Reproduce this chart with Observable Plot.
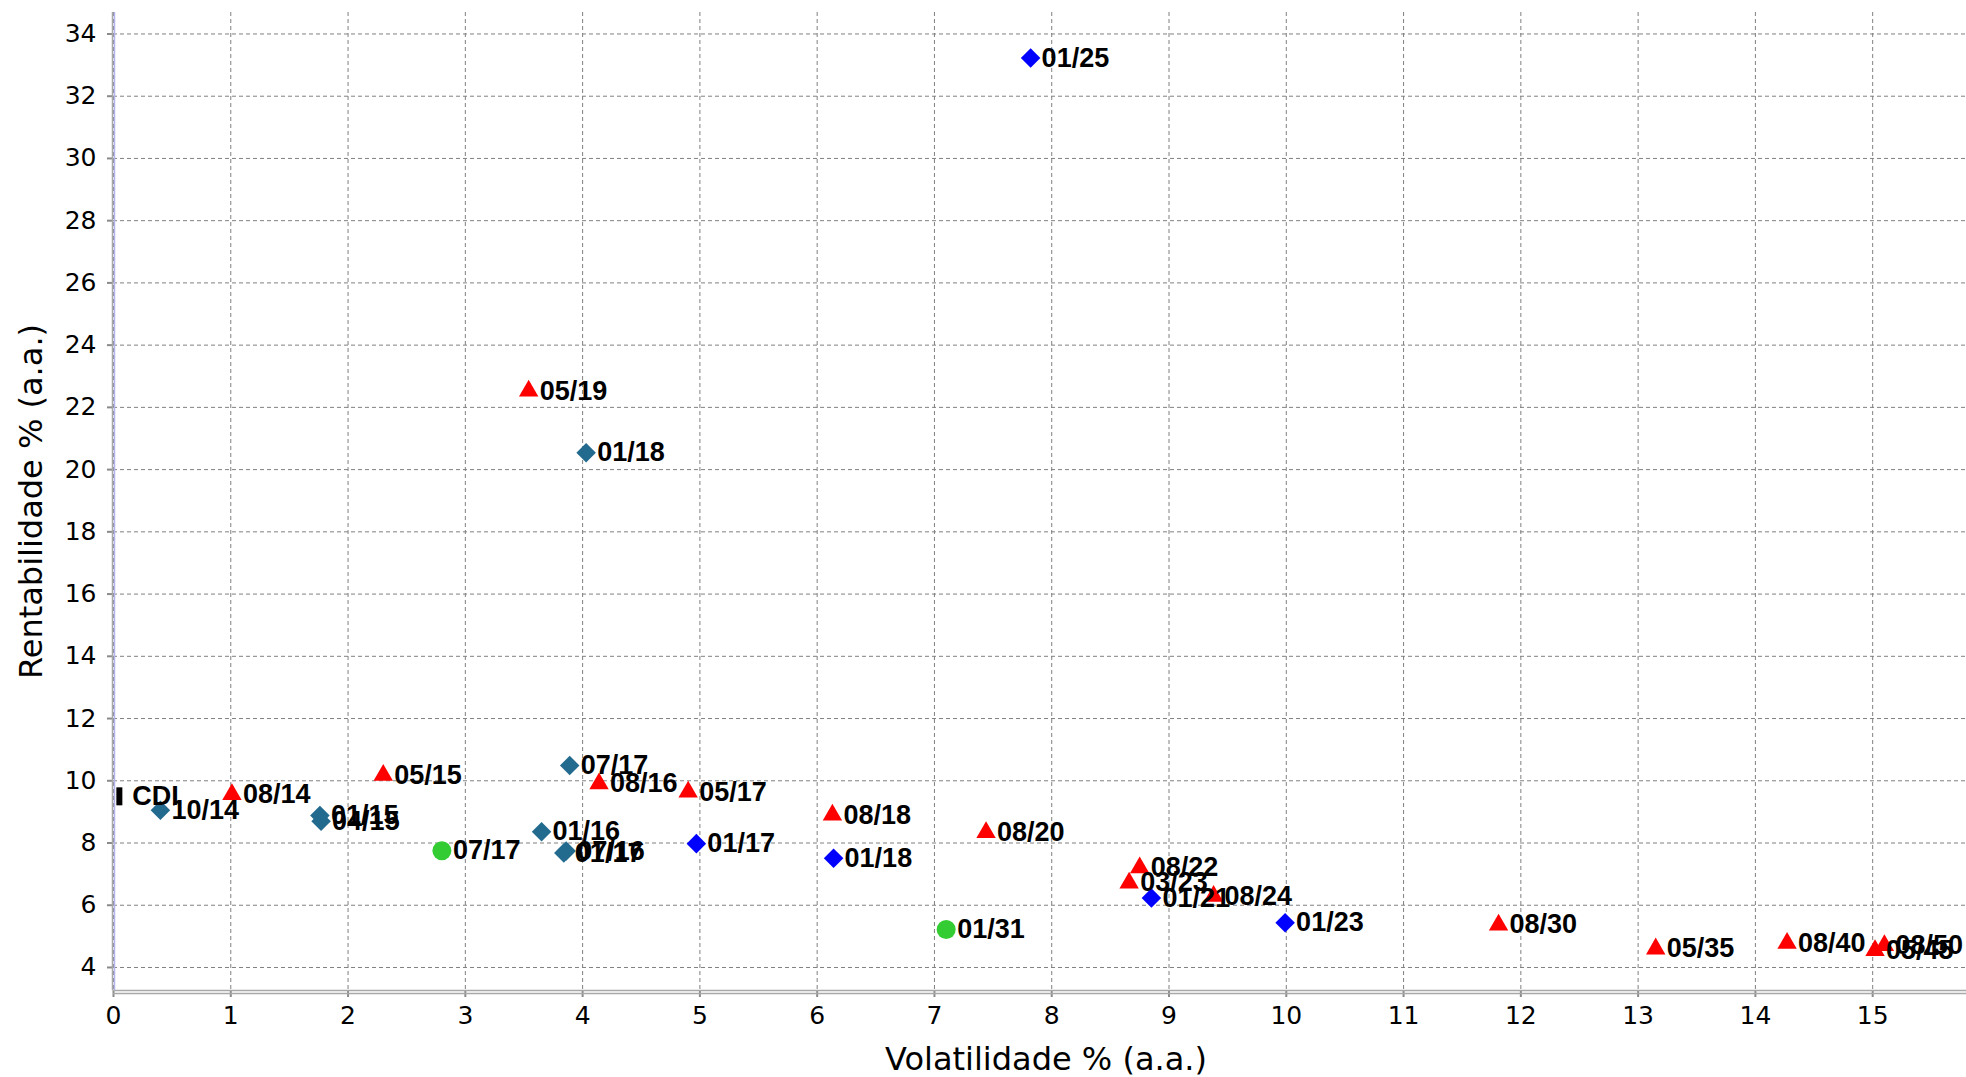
<!DOCTYPE html>
<html><head><meta charset="utf-8">
<script src="https://cdn.jsdelivr.net/npm/d3@7"></script>
<script src="https://cdn.jsdelivr.net/npm/@observablehq/plot@0.6"></script>
<style>body{margin:0;background:#fff;overflow:hidden}</style>
</head><body><div id="chart"></div>
<script>
// NTN-B (red triangles)
const ntnbLabels = ["08/14","05/15","08/16","05/17","05/19","08/18","08/20","08/22","03/23","08/24","08/30","05/35","08/40","05/45","08/50"];
const ntnbVol    = [1.01, 2.30, 4.14, 4.90, 3.54, 6.13, 7.44, 8.75, 8.66, 9.38, 11.81, 13.15, 14.27, 15.02, 15.10];
const ntnbRet    = [9.56, 10.18, 9.91, 9.64, 22.53, 8.90, 8.34, 7.21, 6.72, 6.29, 5.37, 4.60, 4.78, 4.55, 4.71];
// NTN-F (blue diamonds)
const ntnfLabels = ["01/17","01/18","01/21","01/23","01/25"];
const ntnfVol    = [4.97, 6.14, 8.85, 9.99, 7.82];
const ntnfRet    = [7.98, 7.51, 6.23, 5.44, 33.23];
// LTN (teal diamonds)
const ltnLabels = ["10/14","01/15","04/15","01/16","07/16","01/17","07/17","01/18"];
const ltnVol    = [0.40, 1.76, 1.77, 3.65, 3.86, 3.84, 3.89, 4.03];
const ltnRet    = [9.05, 8.88, 8.70, 8.36, 7.74, 7.68, 10.49, 20.54];
// LFT (green circles)
const lftLabels = ["07/17","01/31"];
const lftVol    = [2.80, 7.10];
const lftRet    = [7.75, 5.22];
// CDI
const cdiLabels = ["CDI"];
const cdiVol    = [0.05];
const cdiRet    = [9.50];

const xTicks = [0,1,2,3,4,5,6,7,8,9,10,11,12,13,14,15];
const yTicks = [4,6,8,10,12,14,16,18,20,22,24,26,28,30,32,34];
const xDomain = [0, 15.8];
const yDomain = [3.26, 34.69];
const xTitle = "Volatilidade % (a.a.)";
const yTitle = "Rentabilidade % (a.a.)";

const build = (labels, vol, ret) => labels.map((label, i) => ({label, vol: vol[i], ret: ret[i]}));
const ntnb = build(ntnbLabels, ntnbVol, ntnbRet);
const ntnf = build(ntnfLabels, ntnfVol, ntnfRet);
const ltn = build(ltnLabels, ltnVol, ltnRet);
const lft = build(lftLabels, lftVol, lftRet);
const cdi = build(cdiLabels, cdiVol, cdiRet);

const barSymbol = {draw(context) { context.rect(-3, -9, 6, 18); }};
const gridStyle = {stroke: "#808080", strokeOpacity: 1, strokeWidth: 1, strokeDasharray: "4,3"};
const labelStyle = {x: "vol", y: "ret", text: "label", textAnchor: "start", fontWeight: "bold",
  fontFamily: "'Liberation Sans', Arial, sans-serif", fontSize: 27, fill: "black"};

const plot = Plot.plot({
  width: 1966, height: 1077,
  marginLeft: 113, marginRight: 0, marginTop: 12, marginBottom: 87,
  style: {fontFamily: "'DejaVu Sans', sans-serif", background: "white", color: "black", overflow: "visible"},
  x: {domain: xDomain},
  y: {domain: yDomain},
  marks: [
    Plot.gridX(xTicks, gridStyle),
    Plot.gridY(yTicks, gridStyle),
    Plot.axisX({ticks: xTicks, tickSize: 7, tickPadding: 9, fontSize: 25, stroke: "#8a8a8a", strokeWidth: 2, fill: "black", label: null}),
    Plot.axisY({ticks: yTicks, tickSize: 6, tickPadding: 11, fontSize: 25, stroke: "#8a8a8a", strokeWidth: 2, fill: "black", label: null}),
    Plot.ruleY([yDomain[0]], {stroke: "#a8a8a8", strokeWidth: 1.5}),
    Plot.ruleY([yDomain[0]], {stroke: "#a8a8a8", strokeWidth: 1.5, dy: 3}),
    Plot.ruleX([xDomain[0]], {stroke: "#a8a8a8", strokeWidth: 1.5, dx: -1}),
    Plot.ruleX([xDomain[0]], {stroke: "#b4b4ec", strokeWidth: 1.5, dx: 1}),
    Plot.dot(cdi, {x: "vol", y: "ret", symbol: barSymbol, fill: "black", r: 1}),
    Plot.dot(ltn, {x: "vol", y: "ret", symbol: "diamond2", fill: "#236b8e", r: 8.8}),
    Plot.dot(ntnb, {x: "vol", y: "ret", symbol: "triangle", fill: "#ff0000", r: 7.2}),
    Plot.dot(lft, {x: "vol", y: "ret", symbol: "circle", fill: "#33cc33", r: 9.5}),
    Plot.dot(ntnf, {x: "vol", y: "ret", symbol: "diamond2", fill: "#0000ff", r: 8.8}),
    Plot.text(cdi, {...labelStyle, dx: 13}),
    Plot.text(ltn, {...labelStyle, dx: 11}),
    Plot.text(ntnb, {...labelStyle, dx: 11}),
    Plot.text(lft, {...labelStyle, dx: 11}),
    Plot.text(ntnf, {...labelStyle, dx: 11}),
    Plot.text([xTitle], {text: d => d, frameAnchor: "bottom", lineAnchor: "middle", textAnchor: "middle", dy: 69, dx: 6, fontSize: 32, fill: "black"}),
    Plot.text([yTitle], {text: d => d, frameAnchor: "left", lineAnchor: "middle", textAnchor: "middle", rotate: -90, dx: -82, fontSize: 32, fill: "black"})
  ]
});
document.getElementById("chart").appendChild(plot);
</script>
</body></html>
